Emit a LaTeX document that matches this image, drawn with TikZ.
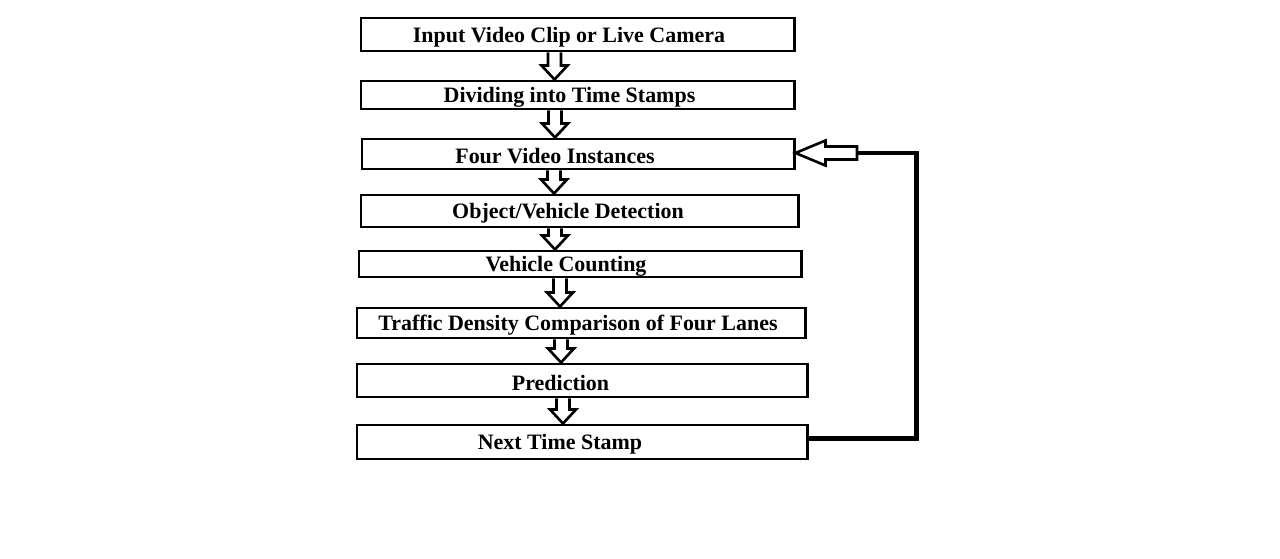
\documentclass[tikz,border=0pt]{standalone}
\usepackage{fontspec}
\setmainfont{Liberation Serif}
\usetikzlibrary{calc}

\tikzset{
  stage/.style={draw, line width=1.7pt, rectangle, inner sep=0pt},
  hollow/.style={draw, line width=1.5pt, fill=white, line join=miter},
  loopline/.style={draw, line width=2.3pt, line join=miter},
  every label/.style={yshift=-0.05cm}
}

\begin{document}
\begin{tikzpicture}[font=\fontsize{12.5}{15}\selectfont\bfseries]
  \path[fill=white, use as bounding box] (0,0) rectangle (25.6,-11.18);
  % stages
  \node[stage, minimum width=8.66cm, minimum height=0.66cm,
        label={[xshift=-0.17cm]center:Input Video Clip or Live Camera}] (inp) at (11.55,-0.69) {};
  \node[stage, minimum width=8.66cm, minimum height=0.56cm,
        label={[xshift=-0.16cm]center:Dividing into Time Stamps}] (div) at (11.55,-1.90) {};
  \node[stage, minimum width=8.64cm, minimum height=0.60cm,
        label={[xshift=-0.46cm]center:Four Video Instances}] (fvi) at (11.56,-3.08) {};
  \node[stage, minimum width=8.74cm, minimum height=0.64cm,
        label={[xshift=-0.23cm]center:Object/Vehicle Detection}] (det) at (11.59,-4.22) {};
  \node[stage, minimum width=8.84cm, minimum height=0.52cm,
        label={[xshift=-0.28cm]center:Vehicle Counting}] (cnt) at (11.60,-5.28) {};
  \node[stage, minimum width=8.96cm, minimum height=0.60cm,
        label={[xshift=-0.06cm]center:Traffic Density Comparison of Four Lanes}] (cmp) at (11.62,-6.46) {};
  \node[stage, minimum width=9.00cm, minimum height=0.66cm,
        label={[xshift=-0.43cm]center:Prediction}] (prd) at (11.64,-7.61) {};
  \node[stage, minimum width=9.00cm, minimum height=0.68cm,
        label={[xshift=-0.44cm]center:Next Time Stamp}] (nts) at (11.64,-8.84) {};
  % block arrows between stages
  \foreach \a/\b/\ax in {inp/div/11.09, div/fvi/11.10, fvi/det/11.08, det/cnt/11.10,
                         cnt/cmp/11.20, cmp/prd/11.22, prd/nts/11.26} {
    \draw[hollow] let \p1=(\a.south), \p2=(\b.north) in
      ({(\ax-0.13)*1cm},\y1) -- ({(\ax-0.13)*1cm},{\y2+0.28cm})
      -- ({(\ax-0.26)*1cm},{\y2+0.28cm}) -- ({\ax*1cm},\y2)
      -- ({(\ax+0.26)*1cm},{\y2+0.28cm}) -- ({(\ax+0.13)*1cm},{\y2+0.28cm})
      -- ({(\ax+0.13)*1cm},\y1);
  }
  % loop back to the four instances
  \coordinate (bk) at (17.14,-3.06);
  \draw[loopline] ([yshift=0.07cm]nts.east) -- ++(2.16,0) |- (bk);
  \draw[hollow] let \p1=(bk), \p2=(fvi.east) in
    (\x1,{\y1+0.13cm}) -- ({\x2+0.6cm},{\y1+0.13cm}) -- ({\x2+0.6cm},{\y1+0.25cm})
    -- (\x2,\y1) -- ({\x2+0.6cm},{\y1-0.25cm}) -- ({\x2+0.6cm},{\y1-0.13cm})
    -- (\x1,{\y1-0.13cm}) -- cycle;
\end{tikzpicture}
\end{document}
